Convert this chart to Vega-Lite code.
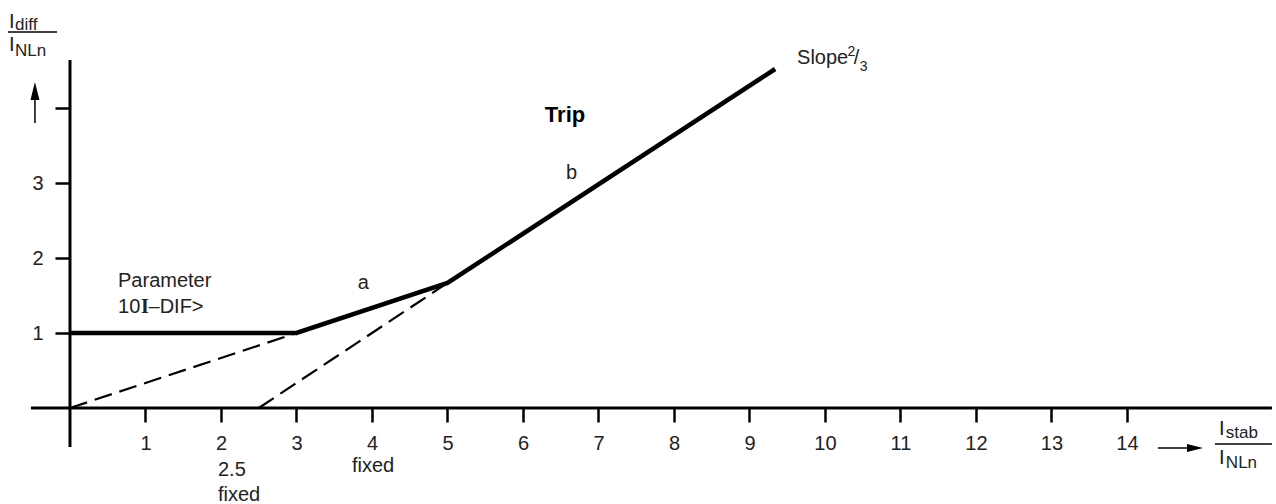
{
  "$schema": "https://vega.github.io/schema/vega-lite/v6.json",
  "width": 1276,
  "height": 504,
  "padding": 0,
  "autosize": {"type": "none"},
  "background": "white",
  "config": {"view": {"stroke": null}, "font": "Liberation Sans", "text": {"font": "Liberation Sans"}},
  "datasets": {
    "axes": [
      {"x": -0.517, "x2": 15.92, "y": 0, "y2": 0},
      {"x": 0, "x2": 0, "y": -0.52, "y2": 4.64}
    ],
    "curve": [
      {"x": 0, "y": 1},
      {"x": 3, "y": 1},
      {"x": 5, "y": 1.667},
      {"x": 9.34, "y": 4.52}
    ],
    "dashes": [
      {"seg": "a", "x": 0, "y": 0},
      {"seg": "a", "x": 3, "y": 1},
      {"seg": "b", "x": 2.5, "y": 0},
      {"seg": "b", "x": 5, "y": 1.667}
    ],
    "arrowLines": [
      {"x": 14.41, "x2": 14.83, "y": -0.533, "y2": -0.533},
      {"x": -0.464, "x2": -0.464, "y": 3.8, "y2": 4.17},
      {"x": -0.821, "x2": -0.172, "y": 5.013, "y2": 5.013},
      {"x": 15.166, "x2": 15.92, "y": -0.48, "y2": -0.48}
    ],
    "headRight": [{"x": 14.9, "y": -0.533}],
    "headUp": [{"x": -0.464, "y": 4.227}],
    "texts": [
      {"label": "Parameter", "x": 0.636, "y": 1.693},
      {"label": "10", "x": 0.636, "y": 1.347},
      {"label": "–DIF>", "x": 1.04, "y": 1.347},
      {"label": "a", "x": 3.81, "y": 1.667},
      {"label": "b", "x": 6.57, "y": 3.13},
      {"label": "Slope", "x": 9.63, "y": 4.673},
      {"label": "/", "x": 10.38, "y": 4.673},
      {"label": "2.5", "x": 1.96, "y": -0.827},
      {"label": "fixed", "x": 1.96, "y": -1.16},
      {"label": "fixed", "x": 3.735, "y": -0.773},
      {"label": "I", "x": -0.808, "y": 5.147},
      {"label": "I", "x": -0.808, "y": 4.84},
      {"label": "I", "x": 15.22, "y": -0.28},
      {"label": "I", "x": 15.22, "y": -0.667}
    ],
    "serif": [
      {"label": "I", "x": 0.94, "y": 1.347}
    ],
    "supsub": [
      {"label": "2", "x": 10.3, "y": 4.747},
      {"label": "3", "x": 10.46, "y": 4.547}
    ],
    "subs": [
      {"label": "diff", "x": -0.728, "y": 5.107},
      {"label": "NLn", "x": -0.728, "y": 4.76},
      {"label": "stab", "x": 15.31, "y": -0.333},
      {"label": "NLn", "x": 15.31, "y": -0.733}
    ],
    "bold": [
      {"label": "Trip", "x": 6.29, "y": 3.907}
    ]
  },
  "layer": [
    {
      "data": {"name": "axes"},
      "mark": {"type": "rule", "color": "black", "strokeWidth": 3},
      "encoding": {
        "x": {
          "field": "x", "type": "quantitative",
          "scale": {"domain": [-0.927, 15.974], "nice": false, "zero": false},
          "axis": {
            "orient": "bottom", "offset": -96, "values": [1,2,3,4,5,6,7,8,9,10,11,12,13,14],
            "format": "d",
            "domain": false, "grid": false, "tickSize": 14, "tickWidth": 2.5, "tickColor": "black",
            "labelFontSize": 20, "labelColor": "#222", "labelPadding": 11, "labelFont": "Liberation Sans",
            "labelFlush": false, "labelOverlap": false, "title": null
          }
        },
        "x2": {"field": "x2"},
        "y": {
          "field": "y", "type": "quantitative",
          "scale": {"domain": [-1.28, 5.44], "nice": false, "zero": false},
          "axis": {
            "orient": "left", "offset": -70, "values": [1,2,3,4],
            "format": "d",
            "labelExpr": "datum.value == 4 ? '' : datum.label",
            "domain": false, "grid": false, "tickSize": 15, "tickWidth": 2.5, "tickColor": "black",
            "labelFontSize": 20, "labelColor": "#222", "labelPadding": 12, "labelFont": "Liberation Sans",
            "labelFlush": false, "labelOverlap": false, "title": null
          }
        },
        "y2": {"field": "y2"}
      }
    },
    {
      "data": {"name": "dashes"},
      "mark": {"type": "line", "color": "black", "strokeWidth": 2.2, "strokeDash": [18, 8]},
      "encoding": {
        "x": {"field": "x", "type": "quantitative"},
        "y": {"field": "y", "type": "quantitative"},
        "detail": {"field": "seg"}
      }
    },
    {
      "data": {"name": "curve"},
      "mark": {"type": "line", "color": "black", "strokeWidth": 4.5, "strokeJoin": "miter"},
      "encoding": {
        "x": {"field": "x", "type": "quantitative"},
        "y": {"field": "y", "type": "quantitative"}
      }
    },
    {
      "data": {"name": "arrowLines"},
      "mark": {"type": "rule", "color": "black", "strokeWidth": 1.5},
      "encoding": {
        "x": {"field": "x", "type": "quantitative"},
        "x2": {"field": "x2"},
        "y": {"field": "y", "type": "quantitative"},
        "y2": {"field": "y2"}
      }
    },
    {
      "data": {"name": "headRight"},
      "mark": {"type": "point", "shape": "M1,0L-1,-0.5L-1,0.5Z", "size": 256, "filled": true, "color": "black", "opacity": 1, "strokeWidth": 0},
      "encoding": {
        "x": {"field": "x", "type": "quantitative"},
        "y": {"field": "y", "type": "quantitative"}
      }
    },
    {
      "data": {"name": "headUp"},
      "mark": {"type": "point", "shape": "M0,-1L-0.5,1L0.5,1Z", "size": 324, "filled": true, "color": "black", "opacity": 1, "strokeWidth": 0},
      "encoding": {
        "x": {"field": "x", "type": "quantitative"},
        "y": {"field": "y", "type": "quantitative"}
      }
    },
    {
      "data": {"name": "texts"},
      "mark": {"type": "text", "align": "left", "baseline": "middle", "fontSize": 20, "color": "#222", "font": "Liberation Sans"},
      "encoding": {
        "x": {"field": "x", "type": "quantitative"},
        "y": {"field": "y", "type": "quantitative"},
        "text": {"field": "label"}
      }
    },
    {
      "data": {"name": "serif"},
      "mark": {"type": "text", "align": "left", "baseline": "middle", "fontSize": 20, "fontWeight": "bold", "color": "#222", "font": "Liberation Serif"},
      "encoding": {
        "x": {"field": "x", "type": "quantitative"},
        "y": {"field": "y", "type": "quantitative"},
        "text": {"field": "label"}
      }
    },
    {
      "data": {"name": "supsub"},
      "mark": {"type": "text", "align": "left", "baseline": "middle", "fontSize": 14, "color": "#222", "font": "Liberation Sans"},
      "encoding": {
        "x": {"field": "x", "type": "quantitative"},
        "y": {"field": "y", "type": "quantitative"},
        "text": {"field": "label"}
      }
    },
    {
      "data": {"name": "subs"},
      "mark": {"type": "text", "align": "left", "baseline": "middle", "fontSize": 17, "color": "#222", "font": "Liberation Sans"},
      "encoding": {
        "x": {"field": "x", "type": "quantitative"},
        "y": {"field": "y", "type": "quantitative"},
        "text": {"field": "label"}
      }
    },
    {
      "data": {"name": "bold"},
      "mark": {"type": "text", "align": "left", "baseline": "middle", "fontSize": 22, "fontWeight": "bold", "color": "black", "font": "Liberation Sans"},
      "encoding": {
        "x": {"field": "x", "type": "quantitative"},
        "y": {"field": "y", "type": "quantitative"},
        "text": {"field": "label"}
      }
    }
  ]
}
